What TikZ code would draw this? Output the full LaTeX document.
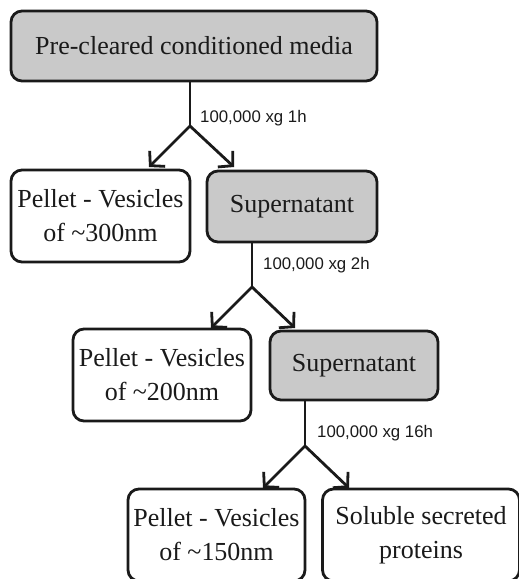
\documentclass[tikz,border=0pt]{standalone}
\usepackage{fontspec}
\setmainfont{Liberation Serif}
\newfontfamily\lblfont{Liberation Sans}
\usetikzlibrary{arrows.meta}
\definecolor{boxgray}{HTML}{C9C9C9}
\definecolor{ink}{HTML}{1A1A1A}
\begin{document}
\begin{tikzpicture}[x=1pt,y=-1pt,
  box/.style={draw=ink, line width=2.8pt, rounded corners=11pt, text=ink,
    font=\fontsize{26}{34}\selectfont, align=center, inner sep=0pt, anchor=center},
  graybox/.style={box, fill=boxgray},
  whitebox/.style={box, fill=white},
  conn/.style={draw=ink, line width=2.8pt},
  arr/.style={conn, -{Straight Barb[length=10pt,width=22pt,line width=2.8pt]}},
  lbl/.style={font=\lblfont\fontsize{16.8}{18}\selectfont, text=ink, anchor=west, inner sep=0pt}]
\useasboundingbox (0,0) rectangle (519,579);
\node[graybox, minimum width=366pt, minimum height=70pt] (top) at (194,46) {Pre-cleared conditioned media};
\node[whitebox, minimum width=179pt, minimum height=92pt] (p1) at (100.5,216) {Pellet - Vesicles\\of \textasciitilde300nm};
\node[graybox, minimum width=170pt, minimum height=71pt] (s1) at (292,206.5) {Supernatant};
\node[whitebox, minimum width=178pt, minimum height=92pt] (p2) at (162,375) {Pellet - Vesicles\\of \textasciitilde200nm};
\node[graybox, minimum width=168pt, minimum height=69pt] (s2) at (354,365.5) {Supernatant};
\node[whitebox, minimum width=177pt, minimum height=92pt] (p3) at (216.5,535) {Pellet - Vesicles\\of \textasciitilde150nm};
\node[whitebox, minimum width=197pt, minimum height=92pt] (sol) at (421,535) {Soluble secreted\\proteins};
% branch points and arrow ends
\coordinate (b1) at (190,126);
\coordinate (e1l) at (149,167);
\coordinate (e1r) at (234,167);
\coordinate (b2) at (252,287);
\coordinate (e2l) at (211,328);
\coordinate (e2r) at (295,328);
\coordinate (b3) at (305,446);
\coordinate (e3l) at (263,488);
\coordinate (e3r) at (349,488);
\draw[conn] (top.south -| b1) -- (b1);
\draw[arr] (b1) -- (e1l);
\draw[arr] (b1) -- (e1r);
\draw[conn] (s1.south -| b2) -- (b2);
\draw[arr] (b2) -- (e2l);
\draw[arr] (b2) -- (e2r);
\draw[conn] (s2.south -| b3) -- (b3);
\draw[arr] (b3) -- (e3l);
\draw[arr] (b3) -- (e3r);
\node[lbl] (l1) at (200,118) {100,000 xg 1h};
\node[lbl] (l2) at (263,265) {100,000 xg 2h};
\node[lbl] (l3) at (317,433) {100,000 xg 16h};
\end{tikzpicture}
\end{document}
